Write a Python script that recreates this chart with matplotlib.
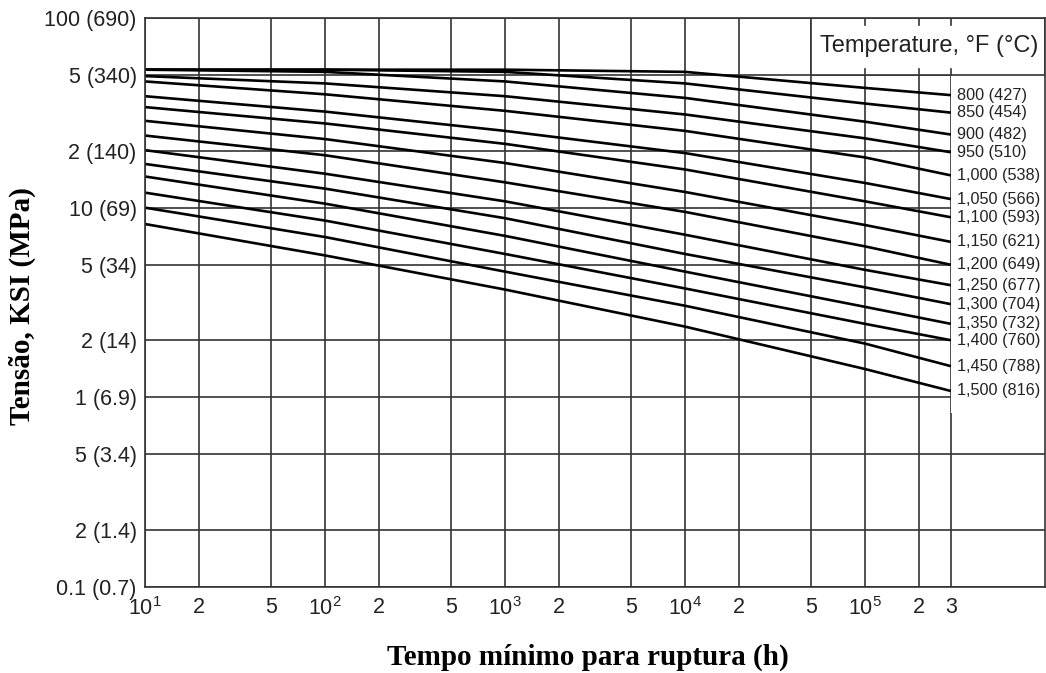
import matplotlib
matplotlib.use("Agg")
import matplotlib.pyplot as plt
from matplotlib.patches import Rectangle

plt.rcParams['font.family'] = ['Liberation Sans', 'DejaVu Sans']
plt.rcParams['mathtext.fontset'] = 'custom'
plt.rcParams['mathtext.rm'] = 'Liberation Sans'

# tempo (h) onde as curvas foram lidas
horas = [10, 100, 1e3, 1e4, 1e5, 3e5]

# tensão (ksi) para cada temperatura
t800 = [53.4, 53.4, 53.4, 52.0, 42.8, 39.2]
t850 = [53.4, 53.4, 52.0, 45.2, 35.4, 31.7]
t900 = [53.4, 52.0, 46.3, 37.9, 28.4, 24.3]
t950 = [49.4, 45.2, 38.7, 31.0, 23.2, 19.6]
t1000 = [46.3, 39.6, 32.4, 25.4, 18.4, 14.8]
t1050 = [38.7, 32.1, 25.4, 19.4, 13.5, 11.1]
t1100 = [33.9, 27.8, 21.7, 15.9, 10.8, 8.9]
t1150 = [28.7, 23.0, 17.2, 12.1, 8.1, 6.6]
t1200 = [24.0, 18.9, 13.6, 9.5, 6.25, 5.0]
t1250 = [20.1, 15.1, 10.8, 7.2, 4.7, 3.9]
t1300 = [17.0, 12.6, 8.8, 5.7, 3.8, 3.1]
t1350 = [14.6, 10.5, 7.1, 4.6, 3.0, 2.44]
t1400 = [12.0, 8.55, 5.7, 3.75, 2.44, 2.0]
t1450 = [10.0, 7.0, 4.6, 3.04, 1.92, 1.46]
t1500 = [8.2, 5.6, 3.7, 2.36, 1.41, 1.08]

rotulos_temp = ["800 (427)", "850 (454)", "900 (482)", "950 (510)",
                "1,000 (538)", "1,050 (566)", "1,100 (593)", "1,150 (621)",
                "1,200 (649)", "1,250 (677)", "1,300 (704)", "1,350 (732)",
                "1,400 (760)", "1,450 (788)", "1,500 (816)"]
curvas = [t800, t850, t900, t950, t1000, t1050, t1100, t1150,
          t1200, t1250, t1300, t1350, t1400, t1450, t1500]

# eixos
y_ticks = [0.1, 0.2, 0.5, 1, 2, 5, 10, 20, 50, 100]
y_labels = ["0.1 (0.7)", "2 (1.4)", "5 (3.4)", "1 (6.9)", "2 (14)",
            "5 (34)", "10 (69)", "2 (140)", "5 (340)", "100 (690)"]
x_ticks = [10, 20, 50, 100, 200, 500, 1e3, 2e3, 5e3, 1e4, 2e4, 5e4,
           1e5, 2e5, 3e5]
x_labels = [r"$\mathregular{10^{1}}$", "2", "5", r"$\mathregular{10^{2}}$", "2", "5",
            r"$\mathregular{10^{3}}$", "2", "5", r"$\mathregular{10^{4}}$", "2", "5",
            r"$\mathregular{10^{5}}$", "2", "3"]

fig = plt.figure(figsize=(10.46, 6.73), dpi=100)
ax = fig.add_axes([145/1046, 1 - 587/673, 900/1046, 569/673])
ax.set_xscale("log")
ax.set_yscale("log")
ax.set_xlim(10, 1e6)
ax.set_ylim(0.1, 100)

# grade
for xv in x_ticks:
    ax.axvline(xv, color="#333333", lw=1.2, zorder=0.5)
for yv in y_ticks:
    ax.axhline(yv, color="#333333", lw=1.2, zorder=0.5)

ax.set_xticks(x_ticks)
ax.set_xticklabels(x_labels)
ax.set_yticks(y_ticks)
ax.set_yticklabels(y_labels)
ax.minorticks_off()
ax.tick_params(axis="both", length=0, labelsize=15.5, colors="#222222")
ax.tick_params(axis="x", pad=7)
ax.tick_params(axis="y", pad=6)
for s in ax.spines.values():
    s.set_color("#333333")
    s.set_linewidth(1.2)

# área branca dos rótulos e caixa do título
ax.add_patch(Rectangle((3e5, 0.83), 1e6 - 3e5, 50 - 0.83, facecolor="white",
                       edgecolor="none", zorder=1))
ax.add_patch(Rectangle((5e4, 50), 1e6 - 5e4, 50, facecolor="white",
                       edgecolor="#333333", lw=1.2, zorder=1))
# pequenos traços da grade dentro da caixa
for xv in [1e5, 2e5, 3e5]:
    ax.plot([xv, xv], [100, 92], color="#333333", lw=1.2, zorder=1.2)
    ax.plot([xv, xv], [50, 53.7], color="#333333", lw=1.2, zorder=1.2)
ax.text(2.27e5, 71, "Temperature, °F (°C)", fontsize=17, ha="center",
        va="center", color="#222222", zorder=3)

# curvas
for valores, rot in zip(curvas, rotulos_temp):
    ax.plot(horas, valores, color="black", lw=1.9, zorder=2,
            solid_capstyle="butt")
    ax.annotate(rot, (horas[-1], valores[-1]), xytext=(4.5, 0),
                textcoords="offset points", fontsize=11.7, va="center",
                ha="left", color="#222222", zorder=3)

fig.text(588/1046, 1 - 657/673, "Tempo mínimo para ruptura (h)",
         family="Liberation Serif", weight="bold", fontsize=21,
         ha="center", va="center")
fig.text(22/1046, 1 - 306/673, "Tensão, KSI (MPa)",
         family="Liberation Serif", weight="bold", fontsize=21,
         ha="center", va="center", rotation=90)

fig.savefig("out.png", dpi=100)
